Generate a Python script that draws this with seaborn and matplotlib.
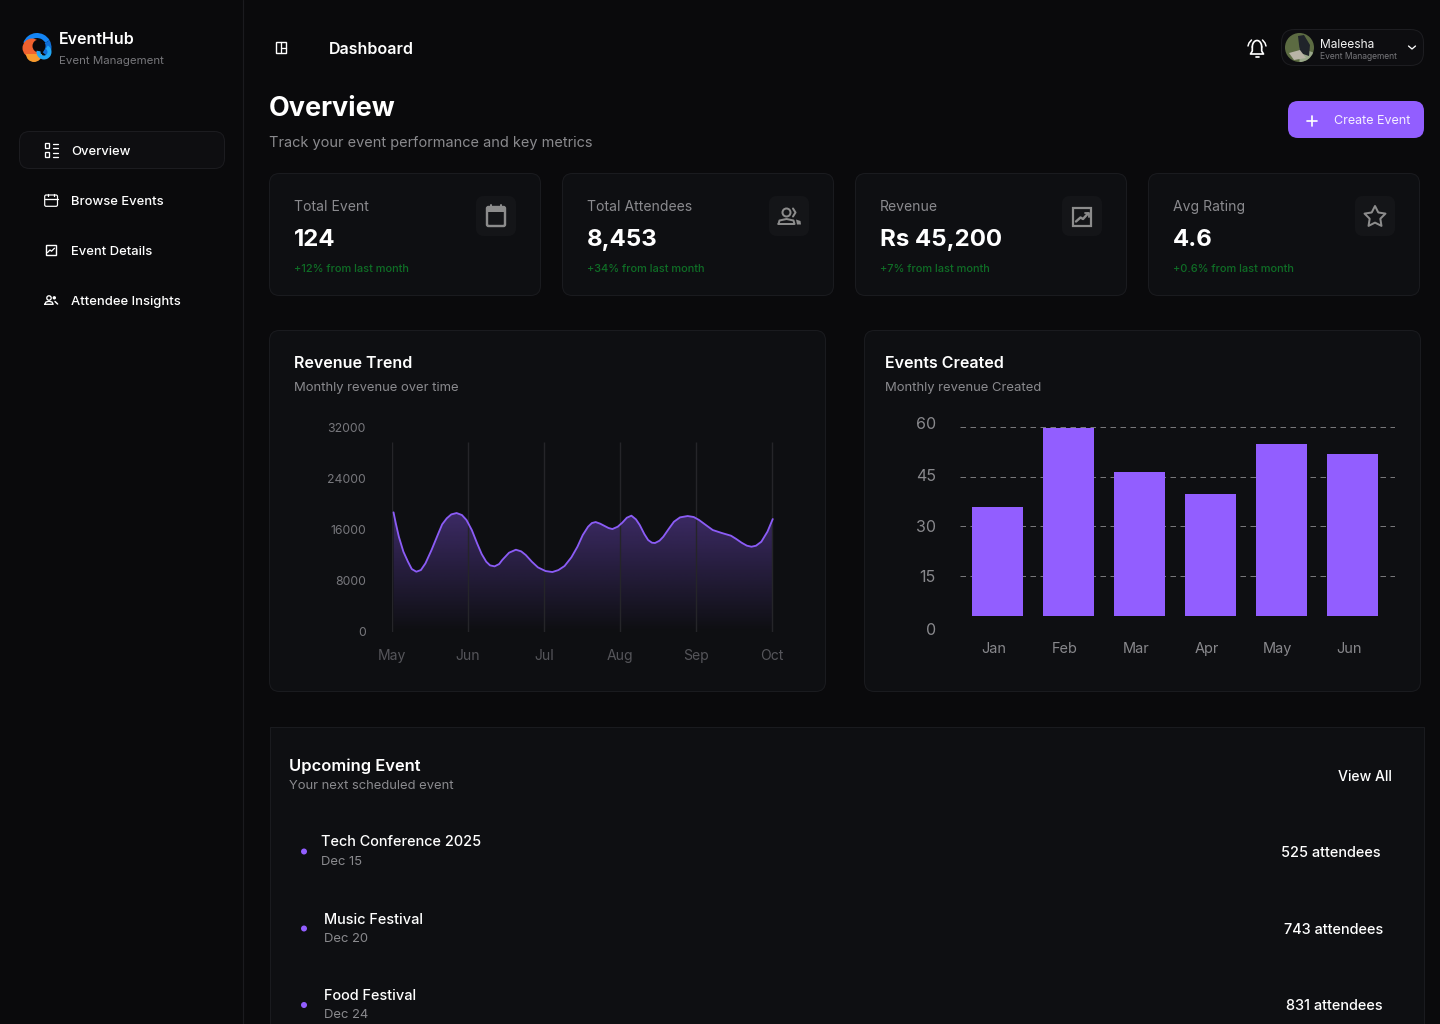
import numpy as np
import pandas as pd
import seaborn as sns
import matplotlib
matplotlib.use("Agg")
import matplotlib.pyplot as plt
from matplotlib.patches import FancyBboxPatch, Circle, Wedge, Polygon, Rectangle
from matplotlib.transforms import ScaledTranslation

# ---------- data ----------
rev_months = ["May", "Jun", "Jul", "Aug", "Sep", "Oct"]
rev_ticks = [0, 8000, 16000, 24000, 32000]
rev_pos = [.02,.05,.09,.15,.21,.26,.32,.38,.44,.52,.61,.66,.72,.78,.85,.92,.98,1.05,1.12,1.18,1.24,1.29,1.35,1.41,1.45,
           1.54,1.63,1.70,1.76,1.84,1.92,2.02,2.11,2.19,2.27,2.36,2.44,2.51,2.58,2.63,2.68,2.74,2.79,2.85,2.90,2.97,
           3.03,3.09,3.15,3.21,3.26,3.32,3.37,3.42,3.46,3.52,3.57,3.64,3.71,3.79,3.89,3.97,4.04,4.13,4.22,4.34,4.46,
           4.53,4.60,4.67,4.73,4.79,4.86,4.94,5.01]
rev_values = [18720,16995,14900,12550,10980,9830,9410,9670,10720,12810,15425,16840,17780,18400,18615,18300,17520,15950,
              13860,12180,10980,10405,10250,10615,11240,12390,12860,12600,12030,10980,10090,9515,9360,9670,10300,11660,
              13330,15165,16470,17045,17200,16940,16630,16260,16105,16470,17100,17880,18200,17620,16730,15320,14380,
              13960,13910,14275,14900,16105,17255,17935,18145,17990,17520,16730,15950,15480,15060,14540,13960,13490,
              13330,13490,14120,15690,17670]

ev_months = ["Jan", "Feb", "Mar", "Apr", "May", "Jun"]
ev_values = [35.8, 59.7, 46.4, 39.7, 54.8, 51.8]
ev_ticks = [0, 15, 30, 45, 60]
ev_base = 2.8

stat_labels = ["Total Event", "Total Attendees", "Revenue", "Avg Rating"]
stat_values = ["124", "8,453", "Rs 45,200", "4.6"]
stat_deltas = ["+12% from last month", "+34% from last month", "+7% from last month", "+0.6% from last month"]
nav_items = ["Overview", "Browse Events", "Event Details", "Attendee Insights"]
upcoming_names = ["Tech Conference 2025", "Music Festival", "Food Festival"]
upcoming_dates = ["Dec 15", "Dec 20", "Dec 24"]
upcoming_counts = ["525 attendees", "743 attendees", "831 attendees"]

# ---------- style ----------
BG = "#0a0a0c"; CARD = "#0e0f12"; EDGE = "#1a1b1f"; PURPLE = "#925eff"; LINE = "#8b5cf6"
GRAY = "#8a8a8e"; GREEN = "#0f6e26"; WHITE = "#ffffff"
sns.set_theme(style="dark", rc={"axes.facecolor": "none", "figure.facecolor": BG})
plt.rcParams["font.family"] = ["Inter", "DejaVu Sans"]
W, H = 1440, 1024
fig = plt.figure(figsize=(W / 100, H / 100), dpi=100, facecolor=BG)
PX = 0.72

bg = fig.add_axes([0, 0, 1, 1], zorder=0)
bg.set_xlim(0, W); bg.set_ylim(H, 0); bg.axis("off")


def rrect(x0, y0, x1, y1, r, fc, ec="none", lw=1.0, z=1):
    bg.add_patch(FancyBboxPatch((x0 + r, y0 + r), x1 - x0 - 2 * r, y1 - y0 - 2 * r,
                                boxstyle=f"round,pad={r}", fc=fc, ec=ec, lw=lw * PX, zorder=z))


def txt(x, y, s, px, c=WHITE, w="normal", ha="left", ax=bg):
    return ax.text(x, y, s, fontsize=px * PX, color=c, fontweight=w, ha=ha, va="center_baseline", zorder=6)


def pl(xs, ys, c=WHITE, lw=1.3, z=5):
    bg.plot(xs, ys, color=c, lw=lw * PX * 1.0, solid_capstyle="round", solid_joinstyle="round", zorder=z)


def axes_px(x0, y0, x1, y1):
    return fig.add_axes([x0 / W, 1 - y1 / H, (x1 - x0) / W, (y1 - y0) / H], zorder=2, facecolor="none")


# ---------- sidebar ----------
pl([242.5, 242.5], [0, 1024], "#1b1b1f", 1.2)
# logo
bg.add_patch(Wedge((37, 47.5), 14.5, 200, 330, width=5, fc="#1485f5", ec="none", zorder=5))
bg.add_patch(Wedge((37, 47.5), 14.5, 330, 400, width=7, fc="#0f6fd8", ec="none", zorder=5))
bg.add_patch(Circle((32, 48), 9.5, fc="#f0622f", ec="none", zorder=5))
bg.add_patch(Wedge((34, 54), 8, 0, 180, fc="#f79a2e", ec="none", zorder=6))
bg.add_patch(Circle((39, 46), 6.5, fc=BG, ec="none", zorder=6))
bg.add_patch(Wedge((44, 52), 7.5, -60, 190, width=4, fc="#21a7f5", ec="none", zorder=7))
txt(59, 38.5, "EventHub", 16, WHITE, "semibold")
txt(59, 60.5, "Event Management", 11.5, "#77777b")

rrect(19.5, 131.5, 224.5, 168.5, 10, "#0e0e11", "#1c1c20", 1)
for lab, y in zip(nav_items, [150.5, 200.5, 250.5, 300.5]):
    txt(71, y, lab, 13, WHITE, "medium")
# overview icon
for yy in (143, 152):
    bg.add_patch(Rectangle((44.7, yy + .3), 4.6, 4.6, fc="none", ec=WHITE, lw=1.3 * PX, zorder=5))
    pl([52.5, 58], [yy + 1, yy + 1]); pl([52.5, 58], [yy + 5, yy + 5])
# calendar icon
rrect(44.7, 195, 57.5, 206.3, 1.5, "none", WHITE, 1.2, 5)
pl([44.7, 57.5], [198.7, 198.7]); pl([48, 48], [193.5, 196]); pl([54, 54], [193.5, 196])
# details icon
bg.add_patch(Rectangle((45.7, 245.2), 10.2, 10, fc="none", ec=WHITE, lw=1.4 * PX, zorder=5))
pl([47.5, 50, 51.5, 54.5], [252.5, 250, 251.2, 248.2], WHITE, 1.3)
# attendee icon
bg.add_patch(Circle((49, 298), 2.2, fc="none", ec=WHITE, lw=1.3 * PX, zorder=5))
bg.add_patch(Circle((54.3, 297.8), 1.7, fc=WHITE, ec="none", zorder=5))
pl([44.8, 46, 49, 52, 53.2, 44.8], [304.3, 302, 301.3, 302, 304.3, 304.3])
pl([55, 57.6], [301.5, 304], WHITE, 1.5)

# ---------- header ----------
bg.add_patch(Rectangle((275.8, 42.2), 10.6, 10.6, fc="none", ec=WHITE, lw=1.4 * PX, zorder=5))
pl([280.8, 280.8], [42.2, 52.8], WHITE, 1.3); pl([280.8, 286.4], [47.5, 47.5], WHITE, 1.3)
txt(329, 47.5, "Dashboard", 16, WHITE, "semibold")
txt(269, 106.5, "Overview", 27, WHITE, "bold")
txt(269, 141.5, "Track your event performance and key metrics", 14.5, GRAY)

# bell
t = np.linspace(0, np.pi, 30)
pl(1257 + 4.7 * np.cos(t), 47 - 6.5 * np.sin(t), WHITE, 1.7)
pl([1252.3, 1252.3, 1250.5, 1263.5, 1261.7, 1261.7], [47, 51, 54, 54, 51, 47], WHITE, 1.7)
pl([1255.5, 1258.5], [56.5, 56.5], WHITE, 1.7)
pl([1248, 1249, 1251.5], [46, 43, 40], WHITE, 1.5); pl([1266, 1265, 1262.5], [46, 43, 40], WHITE, 1.5)

# profile pill
rrect(1281.5, 29.5, 1423.5, 65.5, 13, "#0d0d10", "#1d1d21", 1)
bg.add_patch(Circle((1299.5, 47.5), 14.5, fc="#5c6b42", ec="none", zorder=5))
bg.add_patch(Wedge((1299.5, 47.5), 14.5, 20, 90, fc="#9aa88a", ec="none", zorder=5))
bg.add_patch(Polygon([[1298, 36], [1304, 35], [1310, 45], [1309, 56], [1300, 53]], fc="#20242a", ec="none", zorder=6))
bg.add_patch(Polygon([[1289, 53], [1300, 50], [1306, 58], [1294, 60]], fc="#b9b4a6", ec="none", zorder=6))
txt(1320, 43, "Maleesha", 12, "#f2f2f2")
txt(1320, 55.5, "Event Management", 8.5, "#77777b")
pl([1408.5, 1412, 1415.5], [46, 49, 46], WHITE, 1.3)

# create button
rrect(1288, 101, 1424, 138, 10, PURPLE)
pl([1307, 1317], [121, 121], WHITE, 1.7); pl([1312, 1312], [116, 126], WHITE, 1.7)
txt(1334, 120, "Create Event", 12.5, "#f4eeff")

# ---------- stat cards ----------
card_x = [269, 562, 855, 1148]
for cx, lab, val, dl in zip(card_x, stat_labels, stat_values, stat_deltas):
    rrect(cx + .5, 173.5, cx + 271.5, 295.5, 10, CARD, EDGE, 1)
    txt(cx + 25, 205.5, lab, 14, GRAY)
    txt(cx + 25, 237.5, val, 24, WHITE, "bold")
    txt(cx + 25, 267.5, dl, 11, GREEN, "medium")
    rrect(cx + 207, 196, cx + 247, 236, 8, "#141518", z=2)

IC = "#8c8c8c"
# calendar filled
rrect(487, 207, 505, 226, 1.5, "none", IC, 2.4, 5)
bg.add_patch(Rectangle((487, 207), 18, 5, fc=IC, ec="none", zorder=5))
pl([491, 491], [204.5, 207], IC, 2); pl([501, 501], [204.5, 207], IC, 2)
# people
bg.add_patch(Circle((786.5, 212.5), 4, fc="none", ec=IC, lw=2 * PX, zorder=5))
pl([778.5, 779.5, 786.5, 793.5, 794.5, 778.5], [224, 220.5, 219, 220.5, 224, 224], IC, 2)
pl([793, 795.5, 793], [208.5, 212.5, 216.5], IC, 2)
bg.add_patch(Polygon([[796, 219.5], [800.5, 221], [801, 224.5], [797, 224.5]], fc=IC, ec="none", zorder=5))
# chart box
bg.add_patch(Rectangle((1072.8, 207.5), 18, 18, fc="none", ec=IC, lw=2.2 * PX, zorder=5))
pl([1076, 1080.5, 1083, 1088], [221.5, 217.5, 219, 213.5], IC, 2.4)
pl([1084.5, 1088.5, 1088.5], [213.3, 213.3, 216.5], IC, 1.8)
# star
ang = np.deg2rad(np.arange(0, 720, 72) * 1.0)
sx, sy = [], []
for i in range(10):
    rad = 11 if i % 2 == 0 else 5.6
    a = -np.pi / 2 + i * np.pi / 5
    sx.append(1375 + rad * np.cos(a)); sy.append(217 + rad * np.sin(a))
bg.add_patch(Polygon(np.c_[sx, sy], fc="none", ec=IC, lw=2 * PX, joinstyle="round", zorder=5))

# ---------- chart cards ----------
rrect(269.5, 330.5, 825.5, 691.5, 10, CARD, EDGE, 1)
rrect(864.5, 330.5, 1420.5, 691.5, 10, CARD, EDGE, 1)
txt(294, 362.5, "Revenue Trend", 16, WHITE, "semibold")
txt(294, 386.5, "Monthly revenue over time", 13, GRAY)
txt(885, 362.5, "Events Created", 16, WHITE, "semibold")
txt(885, 386.5, "Monthly revenue Created", 13, GRAY)

# ---------- revenue chart ----------
rev_df = pd.DataFrame({"pos": rev_pos, "value": rev_values})
ax = axes_px(392, 427.7, 392 + 5.02 * 76, 631.7)
sns.lineplot(data=rev_df, x="pos", y="value", ax=ax, color=LINE, lw=1.6 * PX * 1.15, zorder=4, sort=False)
poly = ax.fill_between(rev_df["pos"], 0, rev_df["value"], color="none", lw=0)
grad = np.zeros((256, 1, 4))
grad[..., :3] = matplotlib.colors.to_rgb(PURPLE)
grad[:, 0, 3] = np.linspace(0.6, 0, 256)
im = ax.imshow(grad, extent=[0, 5.02, 0, 32000], origin="upper", aspect="auto", zorder=2, interpolation="bilinear")
im.set_clip_path(poly.get_paths()[0], transform=ax.transData)
ax.vlines(range(len(rev_months)), 0, 29750, color="#252529", lw=1.4 * PX, zorder=3)
ax.set_xlim(0, 5.02); ax.set_ylim(0, 32000)
ax.set_xticks(range(len(rev_months)), rev_months)
ax.set_yticks(rev_ticks, [str(v) for v in rev_ticks])
ax.set_xlabel(""); ax.set_ylabel("")
ax.grid(False)
sns.despine(ax=ax, left=True, bottom=True)
ax.tick_params(axis="x", length=0, pad=17.5 * PX, labelsize=14 * PX, labelcolor="#55555a")
ax.tick_params(axis="y", length=0, pad=26 * PX, labelsize=12.3 * PX, labelcolor="#77777c")

# ---------- events chart ----------
ev_df = pd.DataFrame({"month": ev_months, "height": np.array(ev_values) - ev_base})
ax2 = axes_px(960, 427.3, 1395, 625.3)
ax2.hlines(ev_ticks, -0.528, 5.599, color="#77777a", lw=1.0 * PX, linestyles=(0, (5.5, 4.5)), zorder=1)
sns.barplot(data=ev_df, x="month", y="height", ax=ax2, bottom=ev_base, color=PURPLE, saturation=1,
            width=0.718, zorder=3, linewidth=0)
ax2.set_xlim(-0.528, 5.599); ax2.set_ylim(0, 60)
ax2.set_xticks(np.arange(6) - 0.05, ev_months)
ax2.set_yticks(ev_ticks, [str(v) for v in ev_ticks])
ax2.set_xlabel(""); ax2.set_ylabel("")
ax2.grid(False)
sns.despine(ax=ax2, left=True, bottom=True)
ax2.tick_params(axis="x", length=0, pad=17 * PX, labelsize=14.5 * PX, labelcolor="#88888c")
ax2.tick_params(axis="y", length=0, pad=24 * PX, labelsize=16 * PX, labelcolor="#88888c")
for lab, dy in zip(ax2.get_yticklabels(), [-3.7, -0.7, 0.7, 2, 4]):
    lab.set_transform(lab.get_transform() + ScaledTranslation(0, dy * PX / 72, fig.dpi_scale_trans))
for a in (ax, ax2):
    for s in a.spines.values():
        s.set_visible(False)

# ---------- upcoming ----------
bg.add_patch(Rectangle((269.5, 726.5), 1154, 310, fc=CARD, ec=EDGE, lw=1 * PX, zorder=1))
txt(289, 764.5, "Upcoming Event", 16.5, WHITE, "semibold")
txt(289, 784.5, "Your next scheduled event", 13, GRAY)
txt(1338, 775.5, "View All", 14, WHITE, "medium")
for name, date, cnt, nx, ny, dy_, cx_, ry in zip(upcoming_names, upcoming_dates, upcoming_counts,
                                                  [321, 324, 324], [841, 918, 994.5], [860.5, 937.5, 1014],
                                                  [1281, 1284, 1285.5], [851.5, 928.5, 1005]):
    bg.add_patch(Circle((304, ry), 3, fc=PURPLE, ec="none", zorder=5))
    txt(nx, ny, name, 14.5, WHITE, "medium")
    txt(nx, dy_, date, 13, GRAY)
    txt(cx_, ry, cnt, 14.5, WHITE, "medium")

bg.set_xlim(0, W); bg.set_ylim(H, 0)
fig.savefig("out.png", dpi=100, facecolor=BG)
